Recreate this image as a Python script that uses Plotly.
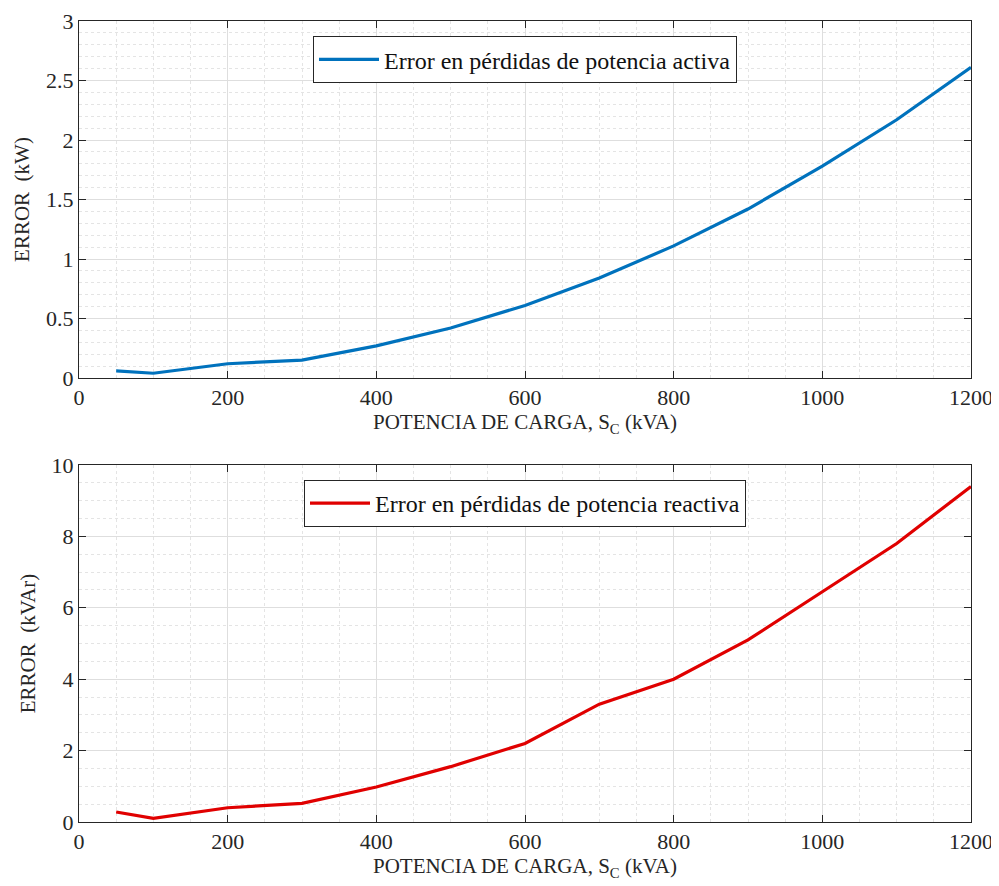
import plotly.graph_objects as go
from plotly.subplots import make_subplots

load_kva = [50, 100, 200, 300, 400, 500, 600, 700, 800, 900, 1000, 1100, 1200]
err_active_kw = [0.06, 0.04, 0.12, 0.15, 0.27, 0.42, 0.61, 0.84, 1.11, 1.42, 1.78, 2.17, 2.61]
err_reactive_kvar = [0.28, 0.10, 0.40, 0.52, 0.98, 1.55, 2.20, 3.30, 4.00, 5.10, 6.45, 7.80, 9.40]

FONT = "Liberation Serif"
TXT = "#262626"

fig = make_subplots(rows=2, cols=1, vertical_spacing=0.1)
fig.add_trace(go.Scatter(x=load_kva, y=err_active_kw, mode="lines",
                         line=dict(color="#0072BD", width=3.2),
                         name="Error en pérdidas de potencia activa", legend="legend"), row=1, col=1)
fig.add_trace(go.Scatter(x=load_kva, y=err_reactive_kvar, mode="lines",
                         line=dict(color="#E00000", width=3.2),
                         name="Error en pérdidas de potencia reactiva", legend="legend2"), row=2, col=1)

axis_common = dict(showline=True, linecolor=TXT, linewidth=1, mirror="ticks",
                   ticks="inside", ticklen=7, tickcolor=TXT,
                   showgrid=True, gridcolor="#dedede", gridwidth=1, zeroline=False,
                   automargin=False,
                   tickfont=dict(family=FONT, size=22, color=TXT))

for r in (1, 2):
    fig.update_xaxes(range=[0, 1200], dtick=200, tick0=0,
                     minor=dict(dtick=50, showgrid=True, gridcolor="#e4e4e4", griddash="dot", ticks=""),
                     title=dict(text="POTENCIA DE CARGA, S<sub>C</sub> (kVA)",
                                font=dict(family=FONT, size=21, color=TXT), standoff=3),
                     row=r, col=1, **axis_common)

fig.update_yaxes(range=[0, 3], dtick=0.5,
                 minor=dict(dtick=0.1, showgrid=True, gridcolor="#e4e4e4", griddash="dot", ticks=""),
                 title=dict(text="ERROR  (kW)", font=dict(family=FONT, size=21, color=TXT), standoff=10),
                 row=1, col=1, **axis_common)
fig.update_yaxes(range=[0, 10], dtick=2,
                 minor=dict(dtick=0.5, showgrid=True, gridcolor="#e4e4e4", griddash="dot", ticks=""),
                 title=dict(text="ERROR  (kVAr)", font=dict(family=FONT, size=21, color=TXT), standoff=10),
                 row=2, col=1, **axis_common)

fig.update_layout(
    width=991, height=878,
    margin=dict(l=71, r=28, t=13, b=64),
    paper_bgcolor="white", plot_bgcolor="white",
    font=dict(family=FONT, color=TXT),
    showlegend=True,
    legend=dict(x=0.5, y=0.981, xanchor="center", yanchor="top",
                bordercolor=TXT, borderwidth=1, bgcolor="white", itemwidth=60,
                font=dict(family=FONT, size=24, color="#111")),
    legend2=dict(x=0.5, y=0.427, xanchor="center", yanchor="top",
                 bordercolor=TXT, borderwidth=1, bgcolor="white", itemwidth=60,
                 font=dict(family=FONT, size=24, color="#111")),
)
fig.update_layout(xaxis_domain=[0, 1], xaxis2_domain=[0, 1],
                  yaxis_domain=[0.5543, 1.0], yaxis2_domain=[0, 0.4457])

fig.write_html("out.html")
